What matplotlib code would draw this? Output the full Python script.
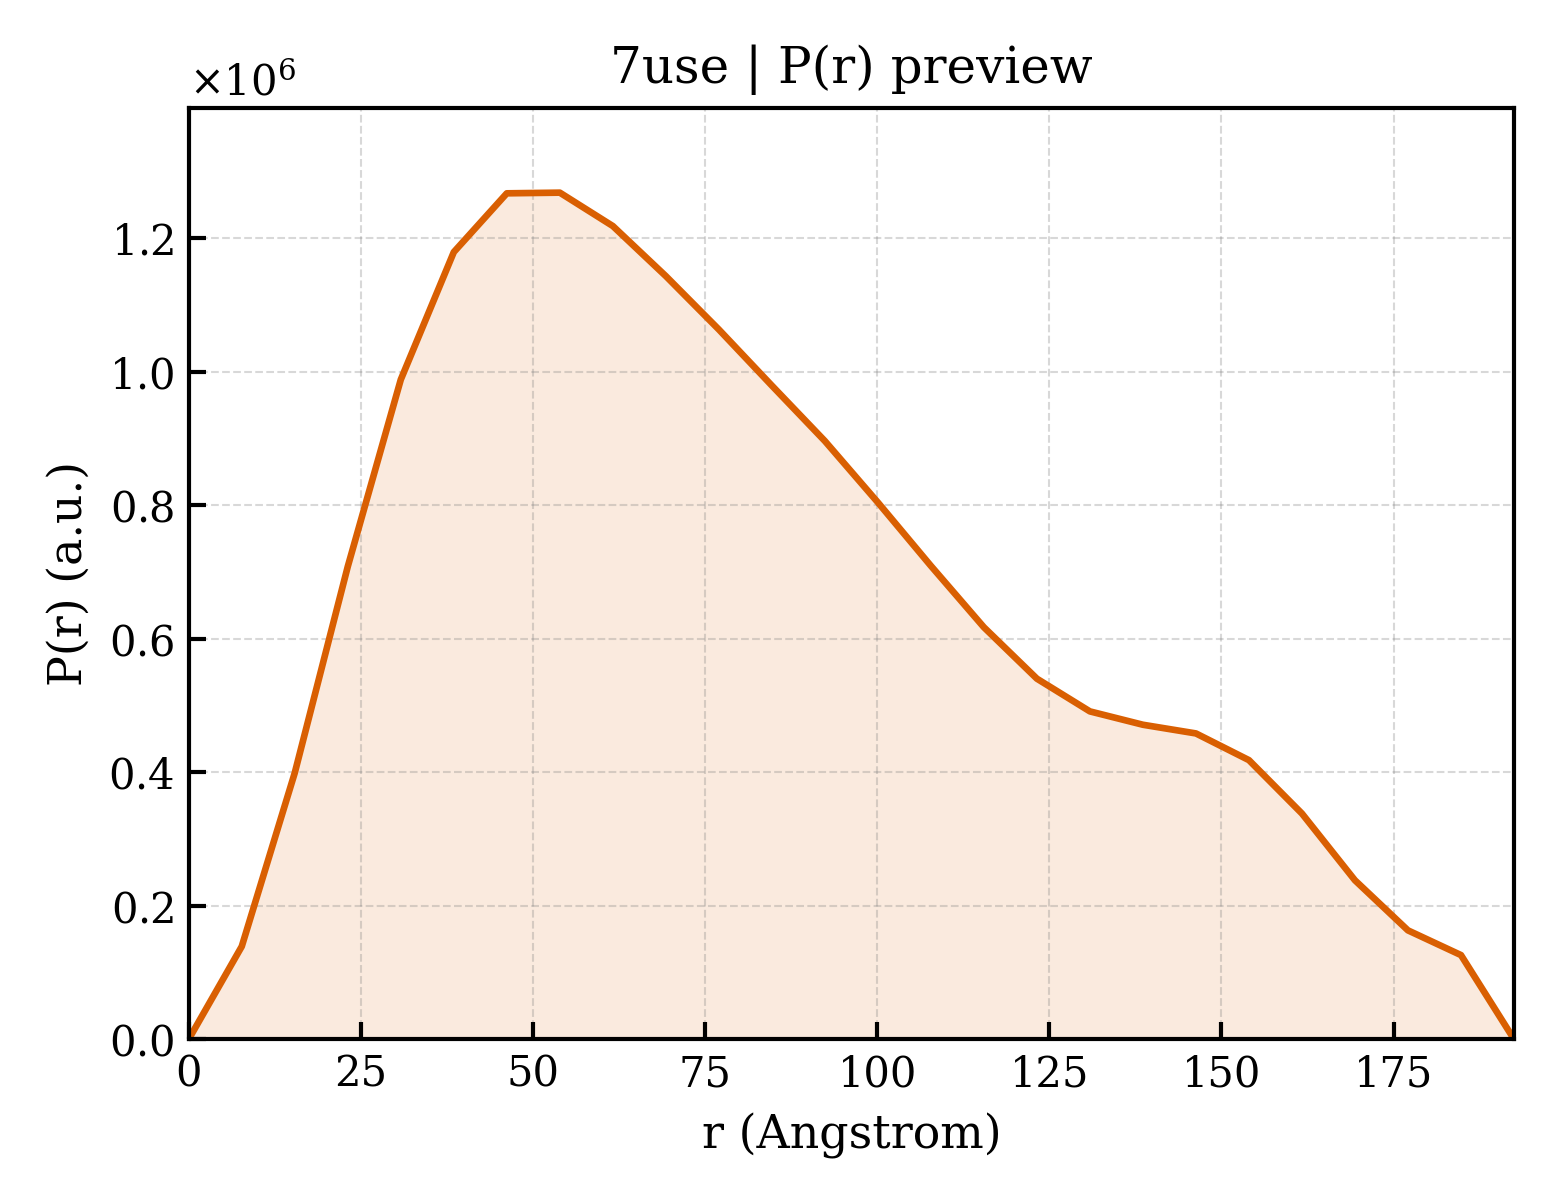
import numpy as np
import matplotlib.pyplot as plt

plt.rcParams['font.family'] = 'DejaVu Serif'
plt.rcParams['mathtext.fontset'] = 'dejavuserif'

# P(r) values
r_vals = [0.0, 7.7, 15.4, 23.1, 30.8, 38.5, 46.2, 53.9, 61.6, 69.3, 77.0, 84.7, 92.4,
          100.1, 107.8, 115.5, 123.2, 130.9, 138.6, 146.3, 154.0, 161.7, 169.4, 177.1,
          184.8, 192.5]
p_vals = [0.0, 0.139, 0.399, 0.708, 0.988, 1.179, 1.267, 1.268, 1.218, 1.143, 1.063,
          0.979, 0.896, 0.804, 0.709, 0.617, 0.540, 0.491, 0.471, 0.458, 0.418, 0.338,
          0.238, 0.163, 0.126, 0.0]

r = np.array(r_vals)
p = np.array(p_vals) * 1e6
color = "#D95F02"

fig = plt.figure(figsize=(5.2, 4), dpi=300)
ax = fig.add_axes([0.121, 0.134, 0.8495, 0.776])

ax.fill_between(r, p, 0, color=color, alpha=0.13, linewidth=0)
ax.plot(r, p, color=color, lw=1.6)

ax.set_xlim(0, r.max())
ax.set_ylim(0, p.max() * 1.1)

ax.set_title("7use | P(r) preview", fontsize=12)
ax.set_xlabel("r (Angstrom)", fontsize=11)
ax.set_ylabel("P(r) (a.u.)", fontsize=11)

ax.ticklabel_format(axis="y", style="sci", scilimits=(0, 0), useMathText=True)
ax.yaxis.get_offset_text().set_fontsize(10)
ax.tick_params(direction="in", labelsize=10, length=4, width=1)
for s in ax.spines.values():
    s.set_linewidth(1.0)

ax.grid(True, linestyle="--", linewidth=0.5, color="gray", alpha=0.3)

plt.savefig("out.png", dpi=300)
